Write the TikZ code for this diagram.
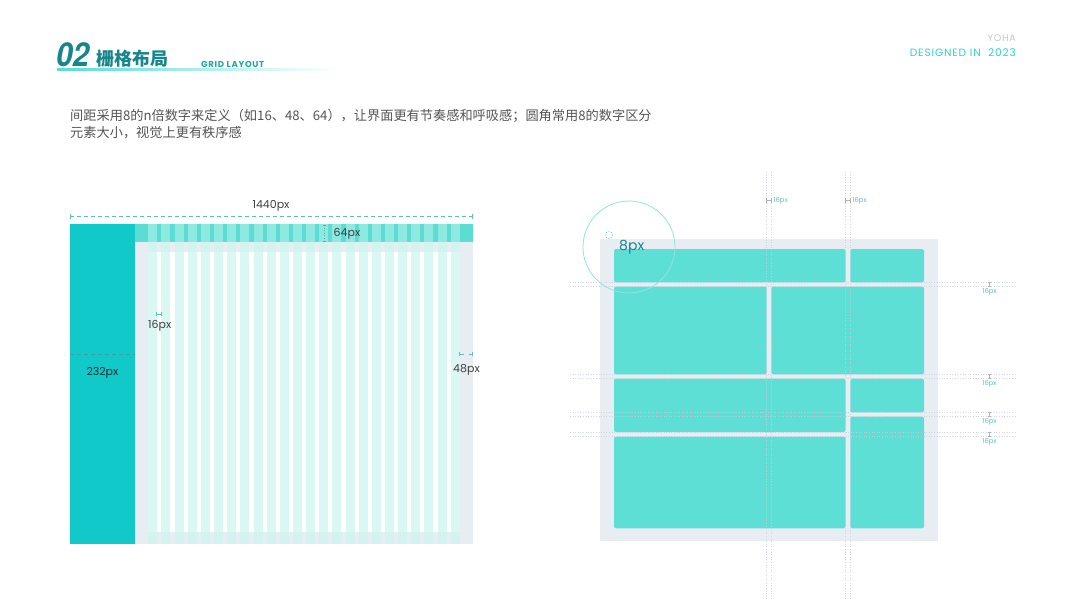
\documentclass[tikz,border=0pt]{standalone}
\usepackage{fontspec}
\setmainfont{Poppins}
\newfontfamily\cjk{Noto Sans CJK SC}
\newfontfamily\numfont{TeX Gyre Heros}
\newfontfamily\wide[LetterSpace=8]{Poppins}
\usetikzlibrary{calc}
\definecolor{titleColor}{HTML}{17858C}
\definecolor{accentColor}{HTML}{2ED3CB}
\definecolor{sideColor}{HTML}{12C9C9}
\definecolor{cardColor}{HTML}{5EDFD6}
\definecolor{bandColor}{HTML}{5CDDD3}
\definecolor{bandLight}{HTML}{8EE9E1}
\definecolor{colColor}{HTML}{CDF6EF}
\definecolor{panelBg}{HTML}{E8EDF4}
\definecolor{guideColor}{HTML}{C9CED8}
\definecolor{textColor}{HTML}{555555}
\definecolor{dimColor}{HTML}{5FBFC2}

\begin{document}
\begin{tikzpicture}[x=1pt, y=-1pt,
    dimLabel/.style={font=\fontsize{11}{11}\selectfont, text=black!75, inner sep=0pt},
    tinyLabel/.style={font=\fontsize{6.8}{7}\selectfont, text=dimColor, inner sep=0pt},
    guideLine/.style={guideColor, dotted, line width=0.6pt, opacity=0.8},
    dimLine/.style={dimColor, line width=0.6pt},
    card/.style={fill=cardColor, rounded corners=2pt}]
    \useasboundingbox[fill=white] (0,0) rectangle (1073,600);

    \node[anchor=base west, inner sep=0pt, text=titleColor, font=\numfont\bfseries\itshape\fontsize{33}{33}\selectfont] (num) at (56,66.7) {\scalebox{0.9}[1]{02}};
    \node[anchor=base west, inner sep=0pt, text=titleColor, font=\cjk\bfseries\fontsize{18}{18}\selectfont] (title) at (96,65) {栅格布局};
    \node[anchor=base west, inner sep=0pt, text=titleColor!60!accentColor, font=\wide\bfseries\fontsize{8.6}{9}\selectfont] (sub) at (201,67.3) {GRID LAYOUT};
    \shade[left color=accentColor!80, right color=white] (57,68.4) rectangle (340,70);

    \node[anchor=base east, inner sep=0pt, text=black!22, font=\wide\fontsize{9.5}{10}\selectfont] (yoha) at (1016,41.7) {YOHA};
    \node[anchor=base east, inner sep=0pt, text=accentColor, font=\wide\fontsize{10.6}{11}\selectfont] (design) at (1016,56.7) {DESIGNED IN\ \ 2023};

    \node[anchor=base west, inner sep=0pt, text=textColor, font=\cjk\fontsize{13.2}{17}\selectfont] (desc1) at (70,120) {间距采用8的n倍数字来定义（如16、48、64），让界面更有节奏感和呼吸感；圆角常用8的数字区分};
    \node[anchor=base west, inner sep=0pt, text=textColor, font=\cjk\fontsize{13.2}{17}\selectfont] (desc2) at (70,137) {元素大小，视觉上更有秩序感};

    \fill[panelBg] (135,242) rectangle (473,544);
    \fill[white] (148,252) rectangle (459.7,532);
    \fill[bandColor] (135,224) rectangle (473,242);
    \foreach \i in {0,...,23} {
        \fill[colColor, opacity=0.75] ({148.3+\i*13.15},242) rectangle ++(9,302);
        \fill[bandLight] ({148.3+\i*13.15},224) rectangle ++(9,18);
    }
    \fill[sideColor] (70,224) rectangle (135,544);

    \coordinate (wl) at (70,216.7);
    \coordinate (wr) at (472.5,216.7);
    \draw[dimLine, dash pattern=on 4pt off 3pt] (wl) -- (wr);
    \draw[dimLine] ($(wl)+(0,-2.5)$) -- ($(wl)+(0,2.5)$);
    \draw[dimLine] ($(wr)+(0,-2.5)$) -- ($(wr)+(0,2.5)$);
    \node[dimLabel, anchor=base] (width) at (271,208.3) {1440px};

    \draw[dimLine, dotted, dimColor!60!gray] (324,225) -- (324,241);
    \draw[dimLine, dimColor!60!gray] (322.5,225) -- (325.5,225);
    \draw[dimLine, dimColor!60!gray] (322.5,241) -- (325.5,241);
    \node[dimLabel, anchor=base west] (header) at (333.5,236.7) {64px};

    \draw[dimLine] (156.7,314) -- (161.7,314);
    \draw[dimLine] (156.7,312) -- (156.7,316);
    \draw[dimLine] (161.7,312) -- (161.7,316);
    \node[dimLabel, anchor=base] (gutter) at (159.7,328.3) {16px};

    \draw[titleColor!80, line width=0.6pt, dash pattern=on 4pt off 3pt] (70,354.3) -- (135,354.3);
    \node[dimLabel, text=black!65!titleColor, anchor=base] (side) at (102.5,375) {232px};

    \draw[dimLine] (459.7,354.3) -- ++(4,0);
    \draw[dimLine] (472.5,354.3) -- ++(-4,0);
    \draw[dimLine] (459.7,352.3) -- (459.7,356.3);
    \draw[dimLine] (472.5,352.3) -- (472.5,356.3);
    \node[dimLabel, anchor=base] (margin) at (466.5,372.7) {48px};

    \fill[panelBg] (600,239) rectangle (937.5,540.7);
    \fill[card] (614,249) rectangle (845.5,282.3);
    \fill[card] (850.3,249) rectangle (924,282.3);
    \fill[card] (614,286.7) rectangle (766.7,374.3);
    \fill[card] (771.3,286.7) rectangle (924,374.3);
    \fill[card] (614,378.7) rectangle (845.5,432);
    \fill[card] (850.3,378.7) rectangle (924,412.3);
    \fill[card] (614,436.7) rectangle (845.5,528.3);
    \fill[card] (850.3,416.7) rectangle (924,528.3);

    \foreach \x in {766.7,771.3,845.7,850.3}
        \draw[guideLine] (\x,172) -- (\x,600);
    \foreach \y in {282.3,286.7,374.3,378.7,412.3,416.7,432,436.7}
        \draw[guideLine] (570,\y) -- (1017,\y);

    \foreach \x/\n in {766.7/a, 845.7/b} {
        \draw[gray!60, line width=0.5pt] (\x,200.7) -- ++(4.6,0);
        \draw[gray!60, line width=0.5pt] (\x,198) -- ++(0,5.4);
        \draw[gray!60, line width=0.5pt] ({\x+4.6},198) -- ++(0,5.4);
        \node[tinyLabel, anchor=west] (top\n) at ({\x+6.5},200.7) {16px};
    }
    \foreach \y/\n in {282.3/a, 374.3/b, 412.3/c, 432/d} {
        \draw[gray!60, line width=0.5pt] (989.3,\y) -- ++(0,4.4);
        \draw[gray!60, line width=0.5pt] (987.5,\y) -- ++(3.6,0);
        \draw[gray!60, line width=0.5pt] (987.5,{\y+4.4}) -- ++(3.6,0);
        \node[tinyLabel] (right\n) at (989.5,{\y+10}) {16px};
    }

    \draw[accentColor!55, line width=0.8pt] (629,247) circle (46pt);
    \draw[accentColor!70!titleColor, dotted, line width=0.6pt] (609,235) circle (3.5pt);
    \node[anchor=base west, inner sep=0pt, text=titleColor, font=\fontsize{14}{14}\selectfont] (radius) at (619,250.5) {8px};
\end{tikzpicture}
\end{document}
